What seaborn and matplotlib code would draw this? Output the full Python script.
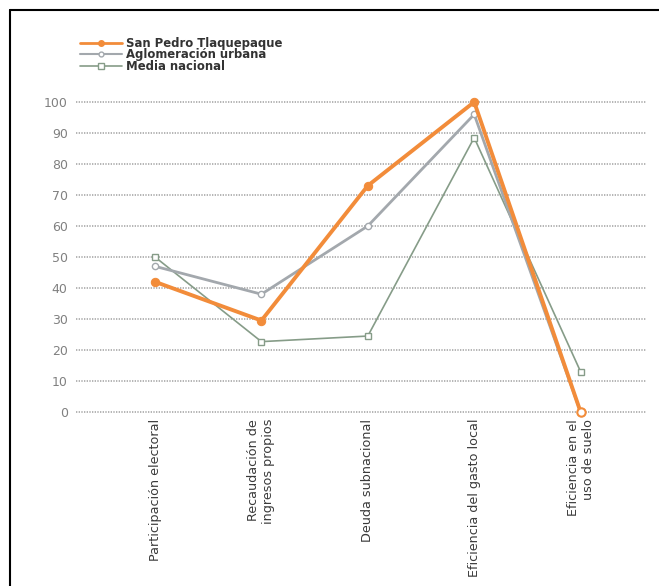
import numpy as np
import pandas as pd
import matplotlib.pyplot as plt
import seaborn as sns
from matplotlib.lines import Line2D

categorias = ["Participación electoral", "Recaudación de\ningresos propios",
              "Deuda subnacional", "Eficiencia del gasto local",
              "Eficiencia en el\nuso de suelo"]
san_pedro = [42, 29.5, 73, 100, 0]
aglomeracion = [47, 38, 60, 96, 0]
media_nacional = [50, 22.7, 24.5, 88.5, 13]
series = ["San Pedro Tlaquepaque", "Aglomeración urbana", "Media nacional"]
yticks = [0, 10, 20, 30, 40, 50, 60, 70, 80, 90, 100]

sns.set_style("white")
plt.rcParams['font.family'] = ['DejaVu Sans']

colores = {"San Pedro Tlaquepaque": "#f28c3a",
           "Aglomeración urbana": "#a3a8ad",
           "Media nacional": "#869c88"}

df = pd.DataFrame({
    "x": list(range(len(categorias))) * 3,
    "valor": san_pedro + aglomeracion + media_nacional,
    "serie": np.repeat(series, len(categorias)),
})

fig = plt.figure(figsize=(6.59, 5.86), dpi=100)
ax = fig.add_axes([76 / 659, 1 - 412 / 586, 570 / 659, 310 / 586])

# draw order: green, grey, orange on top
sns.lineplot(data=df[df.serie == "Media nacional"], x="x", y="valor",
             color=colores["Media nacional"], lw=1.2, marker="s", ms=5,
             mfc="white", mec=colores["Media nacional"], mew=1,
             ax=ax, clip_on=False, legend=False)
sns.lineplot(data=df[df.serie == "Aglomeración urbana"], x="x", y="valor",
             color=colores["Aglomeración urbana"], lw=2, marker="o", ms=4.5,
             mfc="white", mec=colores["Aglomeración urbana"], mew=1,
             ax=ax, clip_on=False, legend=False)
sns.lineplot(data=df[df.serie == "San Pedro Tlaquepaque"], x="x", y="valor",
             color=colores["San Pedro Tlaquepaque"], lw=2.8, marker="o", ms=6,
             mec=colores["San Pedro Tlaquepaque"], ax=ax, clip_on=False,
             legend=False)
# last orange point is hollow
ax.plot(len(categorias) - 1, san_pedro[-1], "o", ms=6, mfc="white",
        mec=colores["San Pedro Tlaquepaque"], mew=1.5, clip_on=False, zorder=5)

ax.set_xlim(-79 / 106.4, (646 - 155) / 106.4)
ax.set_ylim(0, 100)
ax.set_yticks(yticks)
ax.set_xticks(range(len(categorias)))
ax.set_xticklabels(categorias, rotation=90, ha="center", va="top",
                   multialignment="right", fontsize=9.2, color="#3a3a3a")
ax.tick_params(axis="y", labelsize=9, labelcolor="#808080", length=0, pad=6)
ax.tick_params(axis="x", length=0, pad=5)
ax.set_xlabel("")
ax.set_ylabel("")
for s in ax.spines.values():
    s.set_visible(False)
ax.grid(False)
for t in yticks:
    ax.axhline(t, color="#a8a8a8", lw=1.2, ls=(0, (0.8, 0.8)), zorder=0, clip_on=False)

handles = [Line2D([], [], color=colores["San Pedro Tlaquepaque"], lw=2, marker="o", ms=4),
           Line2D([], [], color=colores["Aglomeración urbana"], lw=1.5, marker="o", ms=3.5,
                  mfc="white"),
           Line2D([], [], color=colores["Media nacional"], lw=1.2, marker="s", ms=4,
                  mfc="white")]
leg = fig.legend(handles, series, loc="upper left", bbox_to_anchor=(74 / 659, 1 - 31 / 586),
                 frameon=False, borderpad=0, handlelength=3.6, handletextpad=0.4,
                 labelspacing=-0.12, prop={"size": 8.4, "weight": "bold"})
for t in leg.get_texts():
    t.set_color("#333333")

# frame lines on top and left
fig.add_artist(Line2D([10 / 659, 10 / 659], [0, 1 - 10 / 586], color="black", lw=1.5))
fig.add_artist(Line2D([10 / 659, 1], [1 - 10 / 586, 1 - 10 / 586], color="black", lw=1.5))

fig.savefig("out.png", dpi=100)
